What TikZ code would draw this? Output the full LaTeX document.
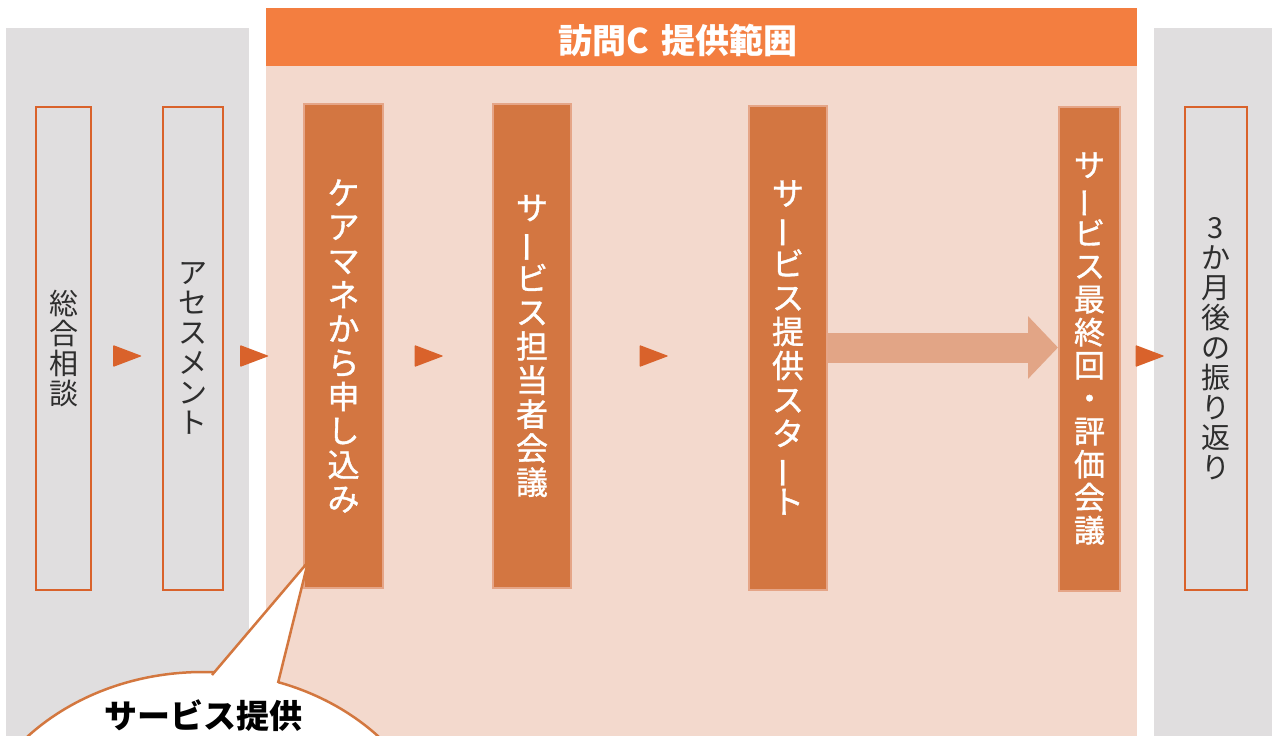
\documentclass[tikz,border=0pt]{standalone}
\usepackage{fontspec}
\setmainfont{Noto Sans CJK JP}
\newfontfamily\medjp[FakeBold=1.2]{Noto Sans CJK JP}
\usetikzlibrary{arrows.meta}
\definecolor{panelgray}{HTML}{E0DEDF}
\definecolor{headorange}{HTML}{F37E40}
\definecolor{pinkbg}{HTML}{F3D9CD}
\definecolor{boxorange}{HTML}{D37641}
\definecolor{boxedge}{HTML}{E5A587}
\definecolor{lineorange}{HTML}{D9622B}
\definecolor{arrowpink}{HTML}{E2A586}
\definecolor{calloutedge}{HTML}{D3773F}
\definecolor{darktext}{HTML}{2E2E2E}
% long vowel mark set upright for the stacked labels
\newcommand\vbar{\rotatebox[origin=c]{90}{ー}}

\begin{document}
\begin{tikzpicture}[x=1pt,y=-1pt,
  outbox/.style={draw=lineorange,line width=2pt,fill=panelgray,minimum width=#1,minimum height=483pt,inner sep=0pt,align=center,text=darktext,font=\fontsize{29}{30}\selectfont},
  fillbox/.style={draw=boxedge,line width=2pt,fill=boxorange,minimum width=#1,minimum height=484pt,inner sep=0pt,align=center,text=white,font=\medjp\fontsize{32}{34}\selectfont},
  marker/.style={fill=lineorange,rounded corners=1pt},
  bigarrow/.style={draw=arrowpink,line width=30pt,-{Triangle[length=30pt,width=61pt]}}]
  \useasboundingbox (0,0) rectangle (1272,736);
  \clip (0,0) rectangle (1272,736);

  % panels
  \fill[panelgray] (6,28) rectangle (249,736);
  \fill[panelgray] (1154,28) rectangle (1272,736);
  \fill[pinkbg] (266,66) rectangle (1137,736);
  \fill[headorange] (266,8) rectangle (1137,66);
  \node[text=white,font=\bfseries\fontsize{34}{36}\selectfont] (title) at (678,40) {訪問C\hspace{0.35em}提供範囲};

  % steps
  \node[outbox=55pt] (soudan) at (63.5,348.5) {総\\合\\相\\談};
  \node[outbox=60pt] (assess) at (193,348.5) {ア\\セ\\ス\\メ\\ン\\ト};
  \node[fillbox=79pt] (moushi) at (343.5,346) {ケ\\ア\\マ\\ネ\\か\\ら\\申\\し\\込\\み};
  \node[fillbox=78pt] (tantou) at (532,346) {サ\\\vbar\\ビ\\ス\\担\\当\\者\\会\\議};
  \node[fillbox=78pt] (start) at (788,347.5) {サ\\\vbar\\ビ\\ス\\提\\供\\ス\\タ\\\vbar\\ト};
  \node[fillbox=61pt,font=\medjp\fontsize{31}{33}\selectfont] (hyouka) at (1089.5,348.5) {サ\\\vbar\\ビ\\ス\\最\\終\\回\\・\\評\\価\\会\\議};
  \node[outbox=62pt] (furikaeri) at (1216,348.5) {3\\か\\月\\後\\の\\振\\り\\返\\り};

  % small markers
  \foreach \x in {127,254,428.5,653.5,1149.5}
    \fill[marker] (\x-14,345) -- (\x+15,356) -- (\x-14,367) -- cycle;

  \draw[bigarrow] (start.east) -- (start.east -| hyouka.west);

  % callout
  \coordinate (tip) at (308,562);
  \fill[white,draw=calloutedge,line width=2.5pt] (203,873) ellipse [x radius=239, y radius=201];
  \fill[white] (214,692) -- (212,675) -- (tip) -- (278,683) -- (276,692) -- cycle;
  \draw[calloutedge,line width=2.5pt,line join=round] (212,675) -- (tip) -- (278,683);
  \node[text=black,font=\bfseries\fontsize{33}{36}\selectfont] (teikyou) at (203,716) {サービス提供};
\end{tikzpicture}
\end{document}
